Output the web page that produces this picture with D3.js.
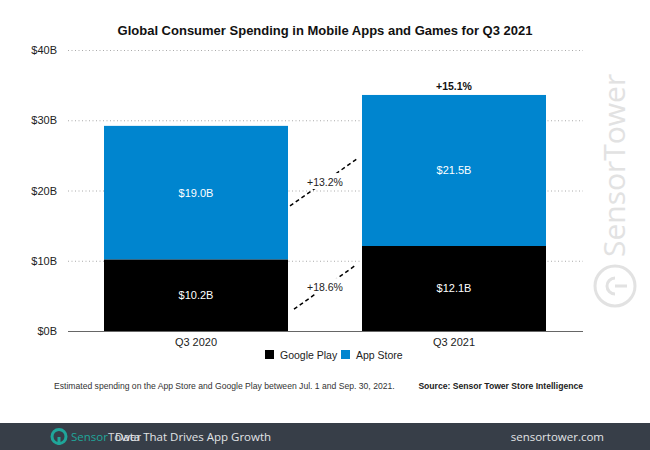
<!DOCTYPE html>
<html><head><meta charset="utf-8">
<script src="https://cdnjs.cloudflare.com/ajax/libs/d3/7.8.5/d3.min.js"></script>
<style>html,body{margin:0;padding:0;background:#fff}svg{display:block}text{font-family:"Liberation Sans",Arial,sans-serif}</style>
</head><body><svg id="c" width="650" height="450"></svg>
<script>
const categories = ["Q3 2020","Q3 2021"];
const googlePlay = [10.2,12.1];
const appStore = [19.0,21.5];
const yTicks = [0,10,20,30,40];
const seriesNames = ["Google Play","App Store"];
const seriesColors = ["#000000","#0085cf"];
const totalLabel = "+15.1%";
const growthLabels = ["+13.2%","+18.6%"];
const connectorStart = [17.8,3.1];
const connectorEnd = [24.6,9.4];
const title = "Global Consumer Spending in Mobile Apps and Games for Q3 2021";

const svg = d3.select("#c");
const y = d3.scaleLinear().domain([0,40]).range([331,50]);
const x = d3.scaleBand().domain(categories).range([68,583]).paddingInner(0.4).paddingOuter(0.2);
// exact bar span: 104-288, 362-546
x.range([67,583]).paddingInner(74/258).paddingOuter(37/258);

svg.append("text").attr("x",325).attr("y",35).attr("text-anchor","middle")
  .attr("font-size",13).attr("font-weight","bold").attr("fill","#111").text(title);

const grid = d3.axisLeft(y).tickValues(yTicks).tickSize(-515).tickFormat(d=>`$${d}B`);
const g = svg.append("g").attr("transform","translate(68,0)").call(grid);
g.select(".domain").remove();
g.selectAll(".tick line").attr("stroke","#aaa").attr("stroke-width",1).attr("stroke-dasharray","1 2.5");
g.selectAll(".tick text").attr("x",-11).attr("font-size",11).attr("fill","#222");
g.selectAll(".tick").filter(d=>d===0).select("line").attr("stroke","#666").attr("stroke-dasharray",null);

const bars = svg.append("g");
[googlePlay,appStore].forEach((vals,s)=>{
  vals.forEach((v,i)=>{
    const base = s===0?0:googlePlay[i];
    bars.append("rect").attr("x",x(categories[i])).attr("width",x.bandwidth())
      .attr("y",y(base+v)).attr("height",y(base)-y(base+v)).attr("fill",seriesColors[s]);
    bars.append("text").attr("x",x(categories[i])+x.bandwidth()/2).attr("y",y(base+v/2)+4)
      .attr("text-anchor","middle").attr("font-size",11).attr("fill","#fff").text(`$${v.toFixed(1)}B`);
  });
});

const right0 = x(categories[0])+x.bandwidth(), left1 = x(categories[1]);
const insets = [[2,4],[6,6]];
connectorStart.forEach((v,i)=>{
  svg.append("line").attr("x1",right0+insets[i][0]).attr("y1",y(v))
    .attr("x2",left1-insets[i][1]).attr("y2",y(connectorEnd[i]))
    .attr("stroke","#000").attr("stroke-width",1.5).attr("stroke-dasharray","4 3");
  const my=(y(v)+y(connectorEnd[i]))/2;
  svg.append("rect").attr("x",(right0+left1)/2-18).attr("y",my-9).attr("width",36).attr("height",16).attr("fill","#fff");
  svg.append("text").attr("x",(right0+left1)/2).attr("y",my+3.5).attr("text-anchor","middle")
    .attr("font-size",10.5).attr("fill","#222").text(growthLabels[i]);
});

svg.append("text").attr("x",x(categories[1])+x.bandwidth()/2).attr("y",y(googlePlay[1]+appStore[1])-5)
  .attr("text-anchor","middle").attr("font-size",10.5).attr("font-weight","bold").attr("fill","#111").text(totalLabel);

categories.forEach(c=>svg.append("text").attr("x",x(c)+x.bandwidth()/2).attr("y",346)
  .attr("text-anchor","middle").attr("font-size",11).attr("fill","#222").text(c));

const legX=[265,341];
seriesNames.forEach((n,i)=>{
  svg.append("rect").attr("x",legX[i]).attr("y",350).attr("width",9).attr("height",9).attr("fill",seriesColors[i]);
  svg.append("text").attr("x",legX[i]+15).attr("y",358.5).attr("font-size",10.5).attr("fill","#222").text(n);
});

svg.append("text").attr("x",54).attr("y",389).attr("font-size",8.6).attr("fill","#333")
  .text("Estimated spending on the App Store and Google Play between Jul. 1 and Sep. 30, 2021.");
svg.append("text").attr("x",583).attr("y",389).attr("text-anchor","end").attr("font-size",8.6).attr("font-weight","bold").attr("fill","#222")
  .text("Source: Sensor Tower Store Intelligence");

// watermark
const wm = svg.append("g").attr("fill","none").attr("stroke","#e2e2e2");
wm.append("circle").attr("cx",615).attr("cy",286).attr("r",20).attr("stroke-width",3);
wm.append("path").attr("d","M627 286H615M615 278a8 8 0 0 0 0 16").attr("stroke-width",3);
svg.append("text").attr("transform","translate(625,257) rotate(-90)").attr("font-family","Open Sans")
  .style("font-family","'Open Sans'").attr("font-size",30).attr("fill","#e2e2e2").text("SensorTower");

// footer
svg.append("rect").attr("x",0).attr("y",423).attr("width",650).attr("height",27).attr("fill","#373e48");
svg.append("circle").attr("cx",59).attr("cy",436.5).attr("r",7).attr("fill","none").attr("stroke","#1fa69a").attr("stroke-width",3);
svg.append("path").attr("d","M59 437V445").attr("stroke","#1fa69a").attr("stroke-width",3);
const ft=(xp,t,col,fs,anc)=>svg.append("text").attr("x",xp).attr("y",441).attr("font-size",fs).attr("fill",col)
  .attr("text-anchor",anc||"start").style("font-family","'Open Sans'").text(t);
const brand=svg.append("text").attr("x",71).attr("y",441).attr("font-size",11.5).style("font-family","'Open Sans'");
brand.append("tspan").attr("fill","#1fa69a").text("Sensor");
brand.append("tspan").attr("fill","#d8dadd").text("Tower");
ft(115,"Data That Drives App Growth","#e2e4e6",11.5);
ft(604,"sensortower.com","#e2e4e6",11.5,"end");
</script></body></html>
